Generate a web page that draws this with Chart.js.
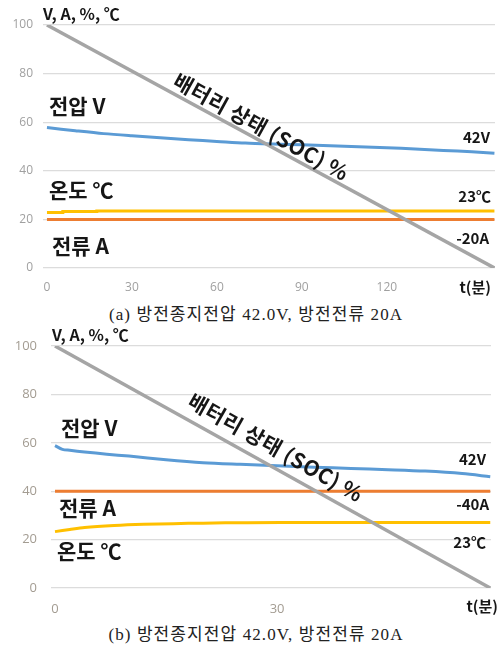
<!DOCTYPE html>
<html><head><meta charset="utf-8">
<script src="https://cdn.jsdelivr.net/npm/chart.js@4"></script>
<style>
html,body{margin:0;padding:0;background:#fff;width:502px;height:649px;overflow:hidden}
.wrap{position:absolute;left:0;width:502px;height:300px}
.cap{position:absolute;left:0;width:512px;text-align:center;font-family:"Liberation Serif","DejaVu Serif","Noto Sans CJK KR",serif;font-size:17px;letter-spacing:1.1px;color:#222;white-space:nowrap}
</style></head><body>
<div class="wrap" style="top:0"><canvas id="ca"></canvas></div>
<div class="cap" style="top:300px">(a) 방전종지전압 42.0V, 방전전류 20A</div>
<div class="wrap" style="top:320px"><canvas id="cb"></canvas></div>
<div class="cap" style="top:620px">(b) 방전종지전압 42.0V, 방전전류 20A</div>
<script>
// ---- Chart (a) data ----
const timeA = [0,10,20,30,40,50,60,70,80,90,100,110,120,130,140,150,158];
const voltageA = [57.8,56.5,55.3,54.4,53.6,52.8,52.1,51.4,51.0,50.7,50.3,49.9,49.5,49.0,48.4,47.8,47.2];
const tempTimeA = [0,5.6,17.6,158];
const tempA = [22.8,23.2,23.5,23.5];
const currentTimeA = [0,158];
const currentA = [20,20];
const socTimeA = [0,158];
const socA = [100,0];
const xTicksA = [0,30,60,90,120];

// ---- Chart (b) data ----
const timeB = [0,1,2,4,7,10,15,20,25,30,35,40,45,50,55,58.8];
const voltageB = [58.8,57.3,56.9,56.2,55.3,54.5,53.0,51.8,51.1,50.5,49.9,49.4,48.9,48.3,47.3,46.0];
const tempTimeB = [0,2,4,8,12,16,20,26,35,58.8];
const tempB = [23.3,24.2,25.0,25.8,26.3,26.6,26.8,27.0,27.1,27.1];
const currentTimeB = [0,58.8];
const currentB = [40,40];
const socTimeB = [0,58.8];
const socB = [100,0];
const xTicksB = [0,30];

const yMin = 0, yMax = 100, yStep = 20;

const COLORS = {soc:'#a5a5a5', volt:'#5b9bd5', cur:'#ed7d31', temp:'#ffc000'};

function pts(xs, ys){ return xs.map((x,i)=>({x:x,y:ys[i]})); }

const textPlugin = {
  id:'texts',
  afterDatasetsDraw(chart, args, opts){
    const ctx = chart.ctx;
    (opts.items||[]).forEach(it=>{
      ctx.save();
      ctx.font = it.font;
      ctx.fillStyle = it.color || '#161616';
      ctx.textAlign = it.align || 'left';
      ctx.textBaseline = 'middle';
      if (it.ls) ctx.letterSpacing = it.ls;
      ctx.translate(it.x, it.y);
      if (it.rot) ctx.rotate(it.rot*Math.PI/180);
      ctx.fillText(it.text, 0, 0);
      ctx.restore();
    });
  }
};

const KF = '"Noto Sans CJK KR","Noto Sans",sans-serif';

function makeChart(id, cfg){
  return new Chart(document.getElementById(id), {
    type:'line',
    data:{datasets:[
      {data:pts(cfg.socT,cfg.soc), borderColor:COLORS.soc, borderWidth:3.5},
      {data:pts(cfg.vT,cfg.v), borderColor:COLORS.volt, borderWidth:3, tension:0.3},
      {data:pts(cfg.cT,cfg.c), borderColor:COLORS.cur, borderWidth:3},
      {data:pts(cfg.tT,cfg.t), borderColor:COLORS.temp, borderWidth:3, stepped:cfg.tStep, tension:cfg.tStep?0:0.3}
    ]},
    options:{
      responsive:true, maintainAspectRatio:false, animation:false,
      elements:{point:{radius:0}, line:{borderCapStyle:'butt'}},
      layout:{padding:{top:cfg.padTop,right:cfg.padRight,left:0,bottom:0}},
      plugins:{legend:{display:false}, tooltip:{enabled:false}, texts:{items:cfg.texts}},
      scales:{
        x:{type:'linear', min:cfg.xMin, max:cfg.xMax,
           grid:{display:false, drawTicks:false}, border:{display:false},
           afterBuildTicks(s){ s.ticks = cfg.xTicks.map(v=>({value:v})); },
           afterFit(s){ s.height = 32; },
           ticks:{color:cfg.tickColor, font:{family:'"Open Sans","Noto Sans",sans-serif', size:cfg.tickSize}, padding:cfg.xPad, maxRotation:0, autoSkip:false}},
        y:{min:yMin, max:yMax,
           grid:{color:'#dcdcdc', lineWidth:1.2, drawTicks:false}, border:{display:false},
           afterFit(s){ s.width = cfg.left; },
           ticks:{stepSize:yStep, color:cfg.tickColor, font:{family:'"Open Sans","Noto Sans",sans-serif', size:cfg.tickSize}, padding:cfg.yPad}}
      }
    },
    plugins:[textPlugin]
  });
}

const B18 = 'bold 21px '+KF;
const BS = 'bold 21px '+KF;
const B14 = 'bold 15px '+KF;
const BT = 'bold 16px '+KF;

makeChart('ca', {
  socT:socTimeA, soc:socA, vT:timeA, v:voltageA, cT:currentTimeA, c:currentA, tT:tempTimeA, t:tempA, tStep:true,
  xMin:-1.4, xMax:158.2, xTicks:xTicksA, padTop:25, padRight:7, left:43,
  tickColor:'#a0a0a0', tickSize:12, xPad:12, yPad:10,
  texts:[
    {text:'V, A, %, ℃', x:43, y:14, font:BT},
    {text:'전압 V', x:49, y:106, font:B18},
    {text:'온도 ℃', x:49, y:190, font:B18},
    {text:'전류 A', x:52, y:246, font:B18},
    {text:'배터리 상태 (SOC) %', x:175, y:79, font:BS, rot:29, ls:'0.5px'},
    {text:'42V', x:490, y:137, font:B14, align:'right'},
    {text:'23℃', x:491, y:196, font:B14, align:'right'},
    {text:'-20A', x:489, y:238, font:B14, align:'right'},
    {text:'t(분)', x:491, y:287, font:B14, align:'right'}
  ]
});

makeChart('cb', {
  socT:socTimeB, soc:socB, vT:timeB, v:voltageB, cT:currentTimeB, c:currentB, tT:tempTimeB, t:tempB, tStep:false,
  xMin:-0.54, xMax:58.9, xTicks:xTicksB, padTop:26, padRight:11, left:51,
  tickColor:'#a39c92', tickSize:13, xPad:13, yPad:14,
  texts:[
    {text:'V, A, %, ℃', x:52, y:15, font:BT},
    {text:'전압 V', x:61, y:108, font:B18},
    {text:'전류 A', x:59, y:188, font:B18},
    {text:'온도 ℃', x:57, y:231, font:B18},
    {text:'배터리 상태 (SOC) %', x:190, y:79, font:BS, rot:29.5, ls:'0.5px'},
    {text:'42V', x:486, y:139, font:B14, align:'right'},
    {text:'-40A', x:489, y:184, font:B14, align:'right'},
    {text:'23℃', x:486, y:222, font:B14, align:'right'},
    {text:'t(분)', x:498, y:286, font:B14, align:'right'}
  ]
});
</script>
</body></html>
